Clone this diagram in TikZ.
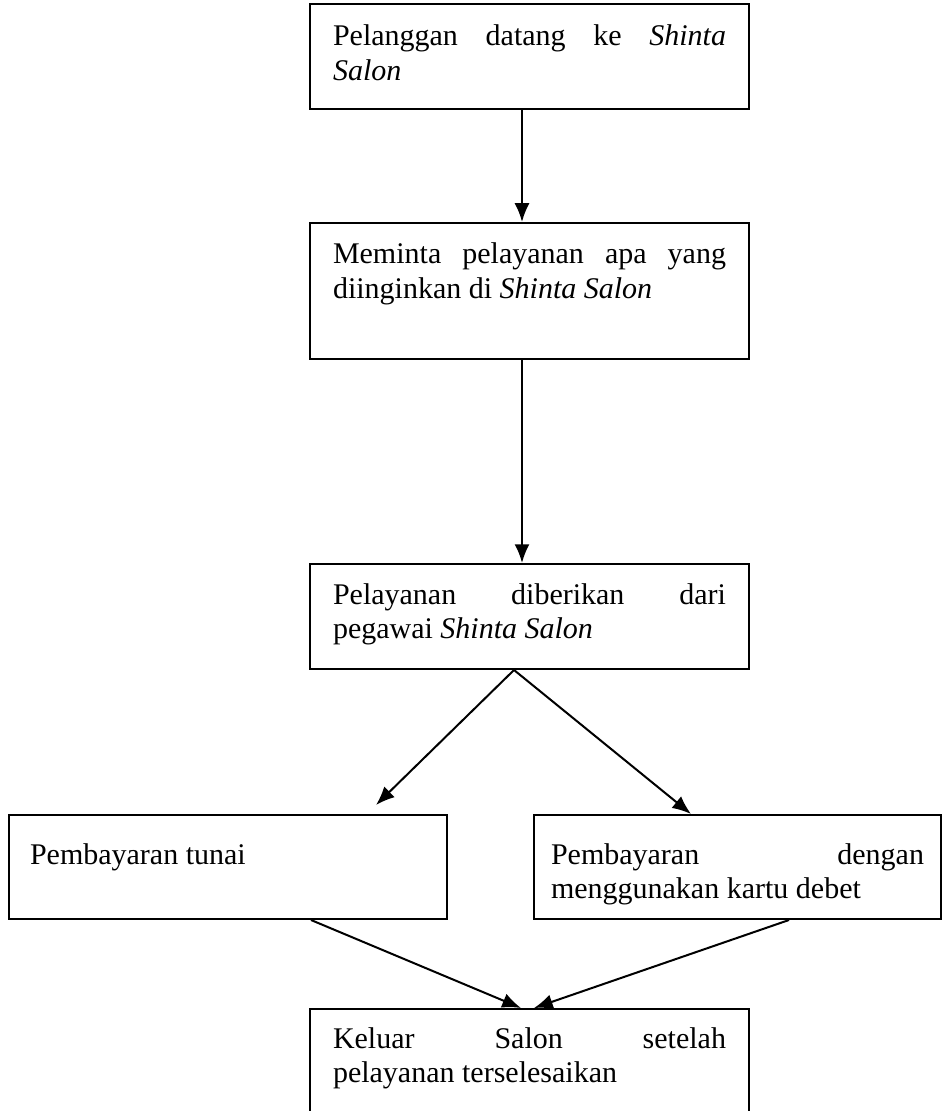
\documentclass[tikz,border=0pt]{standalone}
\usepackage{fontspec}
\setmainfont{Liberation Serif}
\usetikzlibrary{arrows.meta}

\tikzstyle{block} = [
        draw,
        fill=white,
        rectangle,
        anchor=north west,
        align=justify,
        inner ysep=0pt,
        inner xsep=9.2pt,
        text width=157.2pt,
        font=\fontsize{12}{13.8}\selectfont
    ]

\begin{document}
\begin{tikzpicture}[x=0.4pt, y=-0.4pt, line width=0.8pt,
        >={Latex[length=7.5pt,width=6pt]}]
        \useasboundingbox (0,0) rectangle (943,1111);
        \clip (0,0) rectangle (943,1111);
        \node(came) [block, text height=16.8pt, text depth=25.2pt] at (309,3)
            {Pelanggan datang ke \textit{Shinta}\linebreak \textit{Salon}};
        \node(want) [block, text height=16.4pt, text depth=38pt] at (309,222)
            {Meminta pelayanan apa yang\linebreak diinginkan di \textit{Shinta Salon}};
        \node(serv) [block, text height=16pt, text depth=26pt] at (309,563)
            {Pelayanan diberikan dari\linebreak pegawai \textit{Shinta Salon}};
        \node(cash) [block, text height=19.6pt, text depth=22pt,
            inner xsep=8.4pt, text width=158.4pt] at (8,814)
            {Pembayaran tunai};
        \node(card) [block, text height=19.6pt, text depth=22pt,
            inner xsep=6.8pt, text width=149.2pt] at (533,814)
            {Pembayaran dengan\linebreak menggunakan kartu debet};
        \node(done) [block, text height=15.6pt, text depth=60pt] at (309,1008)
            {Keluar Salon setelah\linebreak pelayanan terselesaikan};
        \draw[->] ([xshift=-3pt]came.south) -- ([xshift=-3pt]want.north);
        \draw[->] ([xshift=-3pt]want.south) -- ([xshift=-3pt]serv.north);
        \draw[->] ([xshift=-6.2pt]serv.south)
            -- ([xshift=59.2pt, yshift=3.6pt]cash.north);
        \draw[->] ([xshift=-6.2pt]serv.south) -- ([xshift=-18.6pt]card.north);
        \draw[->] ([xshift=33.2pt]cash.south) -- ([xshift=-3.4pt]done.north);
        \draw[->] ([xshift=20.6pt]card.south) -- ([xshift=1.8pt]done.north);
    \end{tikzpicture}
\end{document}
